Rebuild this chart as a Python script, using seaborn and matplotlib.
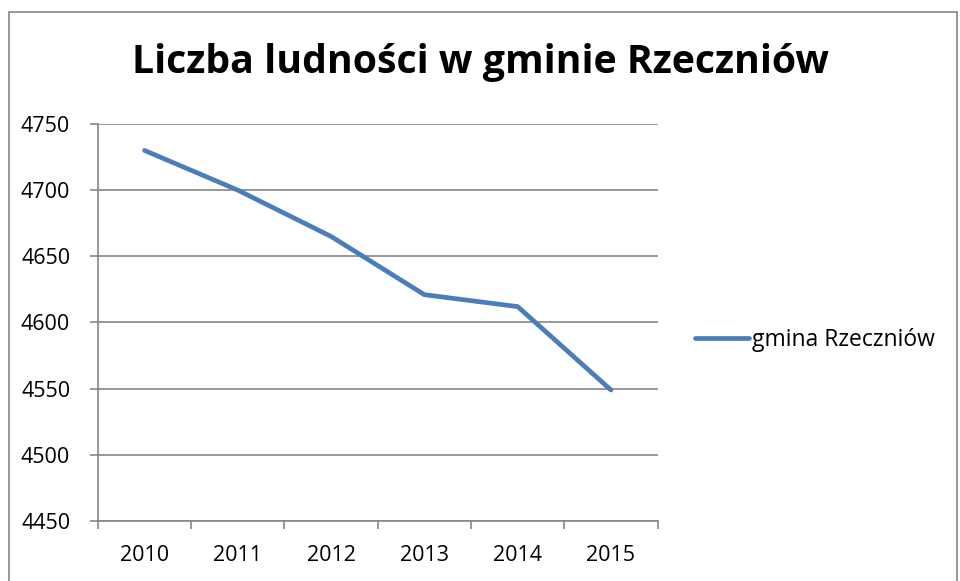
import pandas as pd
import matplotlib.pyplot as plt
import seaborn as sns
import numpy as np
from matplotlib.patches import Rectangle
from matplotlib.lines import Line2D

# Data
years = ['2010', '2011', '2012', '2013', '2014', '2015']
population = [4730, 4700, 4665, 4621, 4612, 4549]
series_name = 'gmina Rzeczniów'
y_ticks = [4450, 4500, 4550, 4600, 4650, 4700, 4750]

df = pd.DataFrame({'rok': years, 'ludnosc': population})

sns.set_style('white')
plt.rcParams['font.family'] = ['Open Sans', 'DejaVu Sans']
plt.rcParams['text.color'] = 'black'
plt.rcParams['xtick.color'] = 'black'
plt.rcParams['ytick.color'] = 'black'

fig = plt.figure(figsize=(9.6, 5.81), dpi=100)
ax = fig.add_axes([0.102, 0.1033, 0.583, 0.6833])

line_color = '#4A7EBB'
grid_color = '#868686'

sns.lineplot(data=df, x='rok', y='ludnosc', ax=ax, color=line_color,
             linewidth=3.4, solid_capstyle='round', solid_joinstyle='round')

ax.set_xlim(-0.5, len(years) - 0.5)
ax.set_ylim(y_ticks[0], y_ticks[-1])
ax.set_yticks(y_ticks)
ax.set_yticklabels([str(v) for v in y_ticks], fontsize=15.5)
ax.set_xticks(range(len(years)))
ax.set_xticklabels(years, fontsize=15.5)
ax.set_xticks(np.arange(-0.5, len(years)), minor=True)
ax.tick_params(axis='x', which='major', bottom=True, length=0, pad=17)
ax.tick_params(axis='x', which='minor', bottom=True, length=6,
               color=grid_color, width=1.2)
ax.tick_params(axis='y', which='major', left=True, length=6,
               color=grid_color, width=1.2, pad=14)

ax.grid(axis='y', color=grid_color, linewidth=1.2)
ax.set_axisbelow(True)
for side in ['top', 'right']:
    ax.spines[side].set_visible(False)
for side in ['left', 'bottom']:
    ax.spines[side].set_color(grid_color)
    ax.spines[side].set_linewidth(1.2)
ax.set_xlabel('')
ax.set_ylabel('')

fig.text(0.5, 0.893, 'Liczba ludności w gminie Rzeczniów', ha='center', va='center',
         fontsize=28.3, fontweight='bold', color='black')

handle = Line2D([], [], color=line_color, linewidth=3.4, solid_capstyle='round')
fig.legend([handle], [series_name], loc='center left', bbox_to_anchor=(0.724, 0.415),
           frameon=False, fontsize=16.5, handlelength=2.35, handletextpad=0.12,
           borderpad=0, borderaxespad=0)

# outer chart border
fig.patches.append(Rectangle((9 / 960, -0.05), 948 / 960, 1.05 - 12 / 581,
                             transform=fig.transFigure, fill=False,
                             edgecolor='#868686', linewidth=1.2))

fig.savefig('out.png', dpi=100)
